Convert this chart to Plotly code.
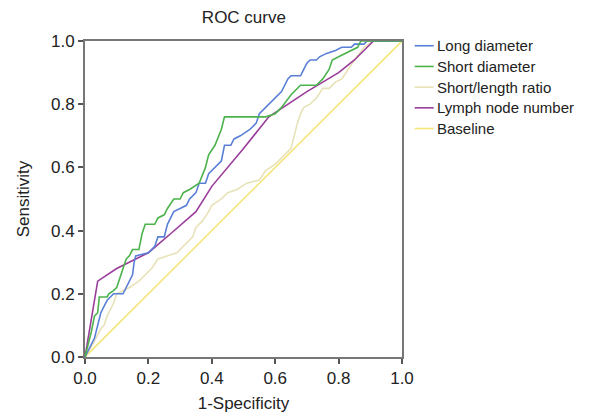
import plotly.graph_objects as go

# ROC curves
long_x = [0, 0.02, 0.03, 0.04, 0.05, 0.06, 0.07, 0.08, 0.09, 0.12, 0.13, 0.14, 0.15, 0.155, 0.16, 0.2, 0.22, 0.23,
          0.25, 0.26, 0.27, 0.28, 0.3, 0.32, 0.33, 0.35, 0.36, 0.38, 0.39, 0.41, 0.43, 0.44, 0.46, 0.47, 0.49,
          0.52, 0.54, 0.55, 0.57, 0.59, 0.61, 0.62, 0.63, 0.64, 0.65, 0.68, 0.69, 0.7, 0.71, 0.73, 0.74, 0.76,
          0.79, 0.81, 0.84, 0.85, 0.88, 0.89, 1.0]
long_y = [0, 0.04, 0.06, 0.1, 0.14, 0.16, 0.18, 0.19, 0.2, 0.2, 0.22, 0.24, 0.26, 0.3, 0.32, 0.33, 0.35, 0.38,
          0.38, 0.42, 0.44, 0.46, 0.47, 0.48, 0.5, 0.52, 0.55, 0.55, 0.58, 0.6, 0.62, 0.67, 0.67, 0.69, 0.7,
          0.72, 0.74, 0.77, 0.79, 0.81, 0.83, 0.84, 0.86, 0.88, 0.89, 0.89, 0.91, 0.93, 0.94, 0.94, 0.95, 0.96,
          0.97, 0.98, 0.98, 0.99, 0.99, 1.0, 1.0]

short_x = [0, 0.02, 0.03, 0.04, 0.045, 0.07, 0.075, 0.09, 0.1, 0.11, 0.12, 0.13, 0.14, 0.15, 0.17, 0.18, 0.19,
           0.22, 0.23, 0.25, 0.26, 0.28, 0.3, 0.31, 0.33, 0.36, 0.38, 0.39, 0.41, 0.43, 0.44, 0.57, 0.6, 0.62,
           0.65, 0.68, 0.73, 0.75, 0.77, 0.78, 0.8, 0.84, 0.86, 0.87, 1.0]
short_y = [0, 0.08, 0.13, 0.14, 0.19, 0.19, 0.2, 0.21, 0.22, 0.25, 0.28, 0.31, 0.32, 0.34, 0.34, 0.39, 0.42,
           0.42, 0.44, 0.45, 0.47, 0.5, 0.5, 0.52, 0.53, 0.55, 0.6, 0.64, 0.67, 0.72, 0.76, 0.76, 0.77, 0.79,
           0.83, 0.86, 0.86, 0.88, 0.91, 0.94, 0.95, 0.97, 0.98, 1.0, 1.0]

ratio_x = [0, 0.03, 0.05, 0.06, 0.07, 0.08, 0.09, 0.1, 0.12, 0.14, 0.17, 0.19, 0.21, 0.23, 0.26, 0.29, 0.31,
           0.34, 0.35, 0.37, 0.39, 0.4, 0.43, 0.45, 0.48, 0.51, 0.55, 0.57, 0.6, 0.63, 0.65, 0.66, 0.67, 0.68,
           0.69, 0.71, 0.73, 0.75, 0.77, 0.79, 0.81, 0.83, 0.85, 0.88, 0.91, 1.0]
ratio_y = [0, 0.05, 0.09, 0.1, 0.13, 0.15, 0.17, 0.2, 0.21, 0.22, 0.24, 0.26, 0.28, 0.31, 0.32, 0.33, 0.35,
           0.38, 0.41, 0.43, 0.46, 0.48, 0.5, 0.52, 0.53, 0.55, 0.56, 0.59, 0.61, 0.64, 0.66, 0.7, 0.74, 0.77,
           0.79, 0.8, 0.82, 0.85, 0.85, 0.87, 0.88, 0.91, 0.94, 0.98, 1.0, 1.0]

lymph_x = [0, 0.04, 0.1, 0.2, 0.27, 0.35, 0.4, 0.5, 0.58, 0.7, 0.8, 0.85, 0.91, 1.0]
lymph_y = [0, 0.24, 0.28, 0.33, 0.39, 0.46, 0.54, 0.66, 0.76, 0.84, 0.9, 0.94, 1.0, 1.0]

base_x = [0, 1]
base_y = [0, 1]

names = ['Long diameter', 'Short diameter', 'Short/length ratio', 'Lymph node number', 'Baseline']
colors = ['#5a7fd6', '#4cb34c', '#e8e2b8', '#9a3d9a', '#f4e67a']
series = [(long_x, long_y), (short_x, short_y), (ratio_x, ratio_y), (lymph_x, lymph_y), (base_x, base_y)]

fig = go.Figure()
# draw baseline first so it sits underneath
for i in [4, 2, 3, 0, 1]:
    x, y = series[i]
    fig.add_trace(go.Scatter(x=x, y=y, mode='lines', name=names[i],
                             line=dict(color=colors[i], width=1.6), showlegend=False))

# hand made legend: short line + label
for i, nm in enumerate(names):
    yy = 0.985 - i * 0.0655
    fig.add_shape(type='line', xref='paper', yref='paper', x0=1.04, x1=1.1, y0=yy, y1=yy,
                  line=dict(color=colors[i], width=1.6))
    fig.add_annotation(text=nm, xref='paper', yref='paper', x=1.103, y=yy, xanchor='left', yanchor='middle',
                       showarrow=False, font=dict(size=15, color='#222'))

axis_style = dict(range=[0, 1], tickvals=[0, 0.2, 0.4, 0.6, 0.8, 1.0], tickformat='.1f',
                  showgrid=False, zeroline=False, showline=True, linecolor='#777', linewidth=2,
                  mirror=True, ticks='outside', ticklen=5, tickcolor='#555', tickwidth=1.5,
                  automargin=False, tickfont=dict(size=17, color='#222'))

# the page adds ~8px of body margin, so margins are shifted to compensate
fig.update_layout(
    width=608, height=420,
    margin=dict(l=77, r=214, t=33, b=71),
    plot_bgcolor='white', paper_bgcolor='white',
    font=dict(family='Liberation Sans, Arial, sans-serif', color='#222'),
    title=dict(text='ROC curve', x=0.388, xanchor='center', y=0.978, yanchor='middle', font=dict(size=17)),
    xaxis=dict(axis_style, title=dict(text='1-Specificity', font=dict(size=17), standoff=10)),
    yaxis=dict(axis_style, title=dict(text='Sensitivity', font=dict(size=17), standoff=17)),
)

fig.write_html("out.html")
